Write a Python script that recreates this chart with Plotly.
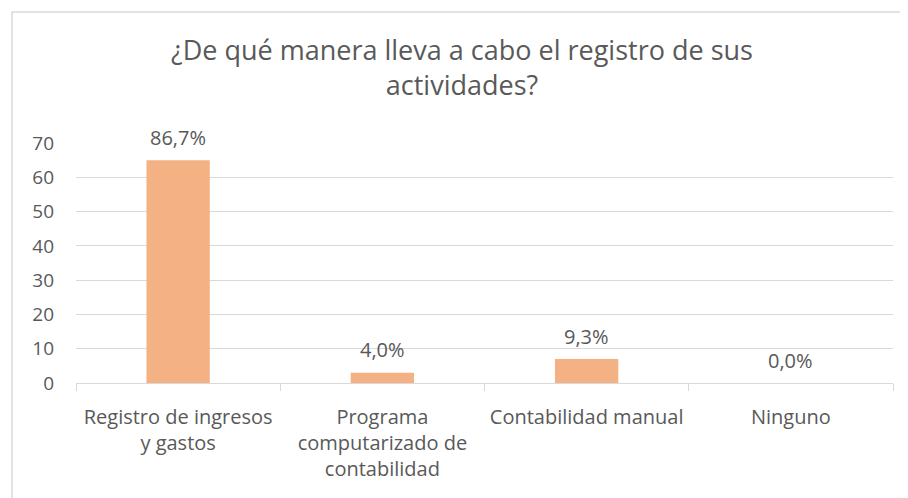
import plotly.graph_objects as go

categories = ["Registro de ingresos<br>y gastos", "Programa<br>computarizado de<br>contabilidad", "Contabilidad manual", "Ninguno"]
values = [65, 3, 7, 0]
pct_labels = ["86,7%", "4,0%", "9,3%", "0,0%"]
title_text = "¿De qué manera lleva a cabo el registro de sus<br>actividades?"

FONT = "Open Sans, Calibri, Carlito, sans-serif"
TXT = "#595959"
GRID = "#d9d9d9"

fig = go.Figure(go.Bar(
    x=categories, y=values,
    marker=dict(color="#F4B183", line=dict(width=0)),
    hoverinfo="skip",
))

for c, v, t in zip(categories, values, pct_labels):
    fig.add_annotation(x=c, y=v, text=t, showarrow=False, yanchor="middle",
                       yshift=23, font=dict(family=FONT, size=20, color=TXT))

fig.update_layout(
    width=908, height=498,
    margin=dict(l=68, r=23, t=135, b=123),
    paper_bgcolor="white", plot_bgcolor="white",
    bargap=0.69,
    showlegend=False,
    title=dict(text=title_text, x=0.5, xanchor="center", y=0.896, yanchor="middle",
               font=dict(family=FONT, size=27, color=TXT)),
    font=dict(family=FONT, color=TXT),
)
fig.update_yaxes(range=[0, 70], dtick=10, showgrid=True, gridcolor=GRID, gridwidth=1,
                 zeroline=False, showline=False, ticks="", ticklabelstandoff=21,
                 tickfont=dict(family=FONT, size=19, color=TXT))
fig.update_xaxes(showline=True, linecolor=GRID, linewidth=1, ticks="outside",
                 tickson="boundaries", ticklen=7, tickcolor=GRID, ticklabelstandoff=16,
                 tickfont=dict(family=FONT, size=20, color=TXT), tickangle=0)

# chart border (left and top visible)
fig.add_shape(type="rect", xref="paper", yref="paper",
              x0=-64/817, x1=(920-76)/817, y0=(383-510)/240, y1=(383-12)/240,
              line=dict(color=GRID, width=1.5), fillcolor="rgba(0,0,0,0)", layer="below")

fig.write_html("out.html")
